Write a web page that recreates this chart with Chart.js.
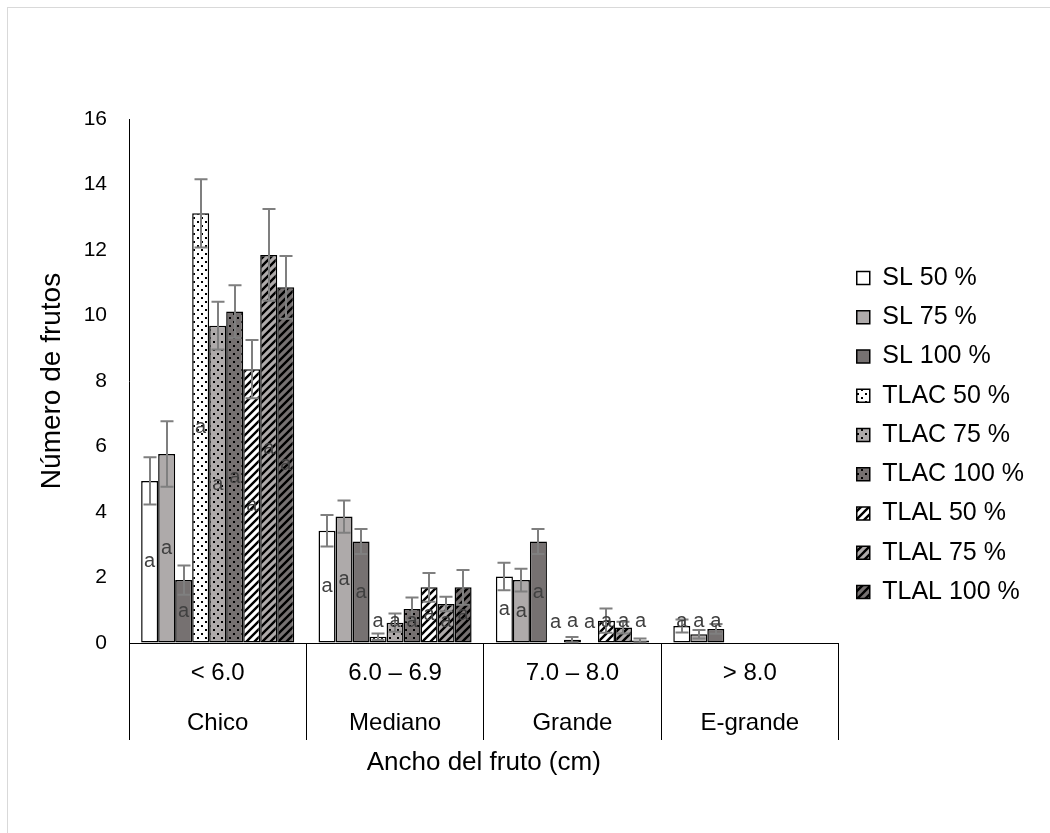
<!DOCTYPE html>
<html>
<head>
<meta charset="utf-8">
<script src="https://cdn.jsdelivr.net/npm/chart.js@4.4.1/dist/chart.umd.min.js"></script>
<style>
  html, body { margin: 0; padding: 0; background: #ffffff; }
  #wrap { position: relative; width: 1050px; height: 833px; overflow: hidden; }
  #frame { position: absolute; left: 7px; top: 7px; width: 1100px; height: 900px;
           border: 1px solid #d9d9d9; box-sizing: border-box; }
  canvas { position: absolute; left: 0; top: 0; }
</style>
</head>
<body>
<div id="wrap">
  <div id="frame"></div>
  <canvas id="c" width="1050" height="833"></canvas>
</div>
<script>
// Fruit width classes (two-row category labels)
const categories = [
  ['< 6.0', 'Chico'],
  ['6.0 – 6.9', 'Mediano'],
  ['7.0 – 8.0', 'Grande'],
  ['> 8.0', 'E-grande']
];

const seriesNames = ['SL 50 %', 'SL 75 %', 'SL 100 %', 'TLAC 50 %', 'TLAC 75 %', 'TLAC 100 %',
                     'TLAL 50 %', 'TLAL 75 %', 'TLAL 100 %'];

// Mean number of fruits per class
const sl50    = [4.95, 3.43, 2.03, 0.52];
const sl75    = [5.77, 3.86, 1.92, 0.27];
const sl100   = [1.92, 3.10, 3.10, 0.43];
const tlac50  = [13.12, 0.19, 0, 0];
const tlac75  = [9.69, 0.62, 0.10, 0];
const tlac100 = [10.12, 1.04, 0, 0];
const tlal50  = [8.36, 1.70, 0.68, 0];
const tlal75  = [11.85, 1.19, 0.47, 0];
const tlal100 = [10.86, 1.70, 0.08, 0];

// Standard error of each mean
const sl50Err    = [0.72, 0.48, 0.42, 0.20];
const sl75Err    = [1.00, 0.49, 0.35, 0.13];
const sl100Err   = [0.45, 0.38, 0.38, 0.15];
const tlac50Err  = [1.04, 0.10, 0, 0];
const tlac75Err  = [0.73, 0.28, 0.08, 0];
const tlac100Err = [0.80, 0.35, 0, 0];
const tlal50Err  = [0.89, 0.44, 0.37, 0];
const tlal75Err  = [1.40, 0.22, 0.18, 0];
const tlal100Err = [0.96, 0.53, 0.06, 0];

// Mean-separation letters
const sl50Let    = ['a', 'a', 'a', 'a'];
const sl75Let    = ['a', 'a', 'a', 'a'];
const sl100Let   = ['a', 'a', 'a', 'a'];
const tlac50Let  = ['a', 'a', 'a', ''];
const tlac75Let  = ['a', 'a', 'a', ''];
const tlac100Let = ['a', 'a', 'a', ''];
const tlal50Let  = ['a', 'a', 'a', ''];
const tlal75Let  = ['a', 'a', 'a', ''];
const tlal100Let = ['a', 'a', 'a', ''];

const yTicks = { min: 0, max: 16, step: 2 };

const WHITE = '#ffffff', LIGHT = '#aeaaaa', DARK = '#767171';
const FONT = "'Liberation Sans', Arial, sans-serif";

function tile(bg, draw) {
  const c = document.createElement('canvas');
  c.width = 8; c.height = 8;
  const g = c.getContext('2d');
  g.fillStyle = bg; g.fillRect(0, 0, 8, 8);
  g.fillStyle = '#000'; g.strokeStyle = '#000';
  draw(g);
  return g.createPattern(c, 'repeat');
}
function dots(bg) {
  return tile(bg, g => { g.fillRect(1, 1, 2, 2); g.fillRect(5, 5, 2, 2); });
}
function stripes(bg) {
  return tile(bg, g => {
    g.lineWidth = 2.4;
    g.beginPath();
    g.moveTo(-2, 10); g.lineTo(10, -2);
    g.moveTo(-6, 6); g.lineTo(6, -6);
    g.moveTo(2, 14); g.lineTo(14, 2);
    g.stroke();
  });
}

const values  = [sl50, sl75, sl100, tlac50, tlac75, tlac100, tlal50, tlal75, tlal100];
const errors  = [sl50Err, sl75Err, sl100Err, tlac50Err, tlac75Err, tlac100Err, tlal50Err, tlal75Err, tlal100Err];
const letters = [sl50Let, sl75Let, sl100Let, tlac50Let, tlac75Let, tlac100Let, tlal50Let, tlal75Let, tlal100Let];
const fills = [WHITE, LIGHT, DARK, dots(WHITE), dots(LIGHT), dots(DARK), stripes(WHITE), stripes(LIGHT), stripes(DARK)];

const datasets = seriesNames.map((name, i) => ({
  label: name,
  data: values[i],
  errors: errors[i],
  letters: letters[i],
  backgroundColor: fills[i],
  borderColor: '#000000',
  borderWidth: 1.5,
  borderSkipped: false,
  categoryPercentage: 0.863,
  barPercentage: 1.0
}));

// Vertical error bars with caps
const errorBars = {
  id: 'errorBars',
  afterDatasetsDraw(chart) {
    const ctx = chart.ctx, ys = chart.scales.y;
    ctx.save();
    ctx.strokeStyle = '#7f7f7f';
    ctx.lineWidth = 2;
    chart.data.datasets.forEach((ds, i) => {
      chart.getDatasetMeta(i).data.forEach((bar, j) => {
        const e = ds.errors[j];
        if (!e) return;
        const v = ds.data[j];
        const top = ys.getPixelForValue(v + e);
        const bot = ys.getPixelForValue(Math.max(0, v - e));
        const x = Math.round(bar.x);
        ctx.beginPath();
        ctx.moveTo(x, top); ctx.lineTo(x, bot);
        ctx.moveTo(x - 6.5, top); ctx.lineTo(x + 6.5, top);
        ctx.moveTo(x - 6.5, bot); ctx.lineTo(x + 6.5, bot);
        ctx.stroke();
      });
    });
    ctx.restore();
  }
};

// Letters centred in each bar (lifted above the baseline for short bars)
const barLetters = {
  id: 'barLetters',
  afterDatasetsDraw(chart) {
    const ctx = chart.ctx;
    ctx.save();
    ctx.font = '20px ' + FONT;
    ctx.fillStyle = '#404040';
    ctx.textAlign = 'center';
    ctx.textBaseline = 'middle';
    chart.data.datasets.forEach((ds, i) => {
      chart.getDatasetMeta(i).data.forEach((bar, j) => {
        const t = ds.letters[j];
        if (!t) return;
        const y = Math.min((bar.y + bar.base) / 2, bar.base - 21);
        ctx.fillText(t, bar.x, y);
      });
    });
    ctx.restore();
  }
};

// Nudges the legend block inside its layout box
const legendOffset = { dx: 4, dy: 0 };
const legendNudge = {
  id: 'legendNudge',
  afterLayout(chart) {
    const l = chart.legend;
    if (!l) return;
    l.left += legendOffset.dx; l.right += legendOffset.dx;
    l.top += legendOffset.dy; l.bottom += legendOffset.dy;
  }
};

new Chart(document.getElementById('c'), {
  type: 'bar',
  data: { labels: categories, datasets },
  plugins: [errorBars, barLetters, legendNudge],
  options: {
    responsive: false,
    animation: false,
    events: [],
    layout: { padding: { left: 30, top: 119, right: 20, bottom: 82 } },
    plugins: {
      legend: {
        position: 'right',
        labels: {
          color: '#000000',
          font: { family: FONT, size: 25 },
          boxWidth: 13,
          boxHeight: 13,
          padding: 14.25
        }
      },
      tooltip: { enabled: false }
    },
    scales: {
      x: {
        offset: true,
        grid: { offset: true, drawOnChartArea: false, drawTicks: true, tickLength: 97, color: '#000000', lineWidth: 1 },
        border: { display: true, color: '#000000', width: 1 },
        ticks: {
          color: '#000000',
          font: { family: FONT, size: 24, lineHeight: 50 / 24 },
          padding: -92,
          maxRotation: 0,
          autoSkip: false
        },
        title: {
          display: true,
          text: 'Ancho del fruto (cm)',
          color: '#000000',
          font: { family: FONT, size: 26 },
          padding: { top: 0, bottom: -27 }
        },
        afterFit(s) { s.height = 108; }
      },
      y: {
        min: yTicks.min,
        max: yTicks.max,
        grid: { display: true, drawOnChartArea: false, drawTicks: false },
        border: { display: true, color: '#000000', width: 1 },
        ticks: {
          stepSize: yTicks.step,
          color: '#000000',
          font: { family: FONT, size: 21 },
          padding: 22
        },
        title: {
          display: true,
          text: 'Número de frutos',
          color: '#000000',
          font: { family: FONT, size: 28 },
          padding: { top: 5, bottom: 0 }
        },
        afterFit(s) { s.width = 99; }
      }
    }
  }
});
</script>
</body>
</html>
